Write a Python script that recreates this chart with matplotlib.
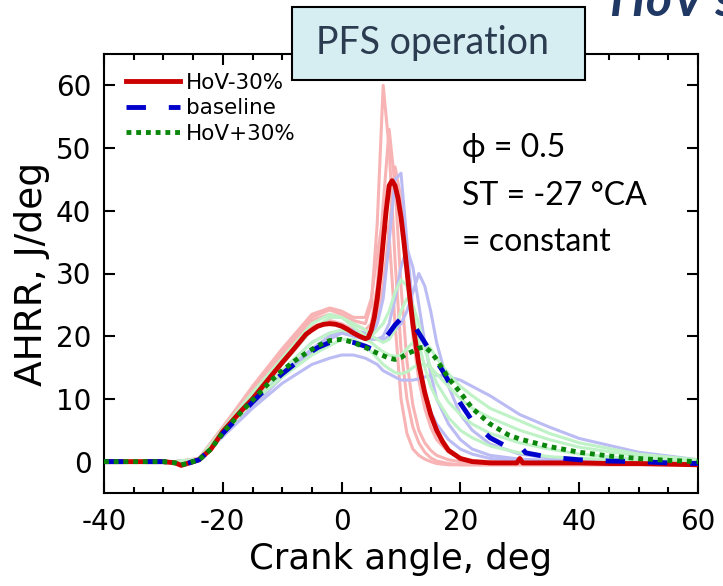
"""Heat-release-rate traces for the HoV sweep under PFS operation."""

import matplotlib

matplotlib.use("Agg")
import matplotlib.pyplot as plt
from matplotlib.patches import Rectangle
from matplotlib.ticker import MultipleLocator

# mean curves
red_angle = [-40, -30, -28, -27, -26, -24, -22, -20, -17, -15, -12, -10, -8, -6, -5, -4, -3, -2, -1, 0,
             1, 2, 3, 4, 4.5, 5, 5.5, 6, 6.5, 7, 7.5, 8, 8.5, 9, 9.5, 10, 10.5, 11, 11.5, 12,
             13, 14, 15, 16, 17, 18, 20, 22, 25, 29.5, 30, 30.5, 35, 40, 45, 50, 55, 60]
red_ahrr = [0, 0, -0.2, -0.6, -0.3, 0.3, 2, 4.8, 8, 10, 13.5, 15.8, 18, 20.3, 21, 21.6, 21.9, 22, 21.9, 21.6,
            21.1, 20.5, 20, 19.6, 19.8, 21, 23, 26, 30, 35, 40, 44, 44.8, 44, 42, 39, 35, 30.5, 26, 22,
            15.5, 11, 7.5, 5, 3.2, 1.8, 0.5, 0, -0.2, -0.2, 0.5, -0.2, -0.2, -0.2, -0.3, -0.3, -0.4, -0.5]

blue_angle = [-40, -30, -28, -27, -26, -24, -22, -20, -17, -15, -12, -10, -8, -6, -4, -2, 0, 2, 4, 5,
              6, 7, 8, 9, 10, 10.5, 11, 12, 13, 14, 15, 16, 17, 18, 19, 20, 22, 25, 28, 30,
              30.5, 31, 35, 40, 45, 50, 55, 60]
blue_ahrr = [0, 0, -0.2, -0.5, -0.3, 0.3, 2, 4.5, 7.5, 9.5, 12.3, 14, 15.5, 17, 18.2, 19, 19.3, 19, 18.4, 18,
             18.2, 19.2, 20.5, 21.8, 22.8, 23, 22.8, 22, 20.5, 19, 17.5, 16, 14.5, 12.8, 11, 9.3, 6.5, 3.8, 2.3, 1.6,
             2.0, 1.4, 0.7, 0.3, 0.1, 0, -0.2, -0.3]

green_angle = [-40, -30, -28, -27, -26, -24, -22, -20, -17, -15, -12, -10, -8, -6, -4, -2, 0, 2, 4, 6,
               8, 9, 10, 11, 12, 13, 14, 15, 16, 18, 20, 22, 25, 28, 30, 35, 40, 45, 50, 55, 60]
green_ahrr = [0, 0, -0.2, -0.5, -0.3, 0.3, 2, 4.6, 7.8, 9.8, 12.8, 14.5, 16, 17.3, 18.5, 19.3, 19.5, 19, 18.2, 17.3,
              16.5, 16.3, 16.6, 17.2, 17.6, 18.1, 18.3, 17.5, 16.3, 13.3, 11, 8.5, 6, 4.3, 3.6, 2.4, 1.5, 0.9, 0.5, 0.2, 0]

# individual cycles (faint lines), all on one angle grid
trace_angle = [-40, -28, -24, -20, -15, -10, -5, -2, 0, 2, 4, 5, 6, 7, 8, 9, 10, 11, 12, 13,
               14, 15, 16, 18, 20, 22, 25, 30, 35, 40, 50, 60]
red_traces = [
    [0, 0, 0.5, 5.5, 11.5, 17.5, 23, 24.2, 23.5, 22.5, 22, 25, 38, 60, 50, 32, 18, 10, 5.5, 3,
     1.5, 0.6, 0.1, -0.3, -0.5, -0.5, -0.5, -0.5, -0.5, -0.5, -0.5, -0.5],
    [0, 0, 0.4, 5, 11, 17, 22.5, 23.5, 23, 22, 21, 22, 28, 41, 53, 44, 28, 16, 9, 5,
     3, 1.8, 1, 0.3, 0, -0.2, -0.3, -0.3, -0.3, -0.3, -0.4, -0.5],
    [0, 0, 0.3, 4.6, 10.5, 16, 21.5, 22.5, 22, 21, 20, 20.5, 23, 28, 37, 47, 42, 30, 20, 13,
     8.5, 5.5, 3.5, 1.5, 0.6, 0.2, 0, -0.2, -0.2, -0.3, -0.3, -0.4],
    [0, 0, 0.5, 5.5, 12, 18, 23.5, 24.5, 24, 23, 23, 26, 33, 39, 36, 22, 10, 4.5, 2, 1,
     0.4, 0, -0.3, -0.5, -0.5, -0.5, -0.5, -0.5, -0.5, -0.5, -0.5, -0.5],
]
blue_traces = [
    [0, 0, 0.3, 4.5, 9.5, 14.5, 19, 20.5, 20.5, 20, 19.5, 20, 22, 26, 35, 45, 46, 35, 24, 16,
     11, 8, 6, 3.5, 2, 1.2, 0.5, 0.2, 0, 0, -0.2, -0.3],
    [0, 0, 0.3, 4.3, 9, 14, 18, 20, 21, 21, 20, 19.5, 19.5, 20, 22, 26, 31, 34, 31, 25,
     19, 14, 10, 6, 3.5, 2, 1, 0.4, 0.2, 0, -0.2, -0.3],
    [0, 0, 0.3, 4.2, 8.8, 13.5, 17.5, 19.5, 20.5, 21, 20.5, 20, 19.5, 19.5, 20, 21, 22, 24, 27, 30,
     28, 24, 19, 12, 7.5, 5, 2.8, 1.2, 0.6, 0.3, 0, -0.2],
    [0, 0, 0.3, 4, 8.5, 12.5, 15.5, 16.5, 17, 17, 16.5, 16, 15.5, 14.5, 14, 13.5, 13, 13, 13, 13.2,
     13.5, 13.7, 13.8, 13.5, 13, 12, 10.5, 7.5, 5.5, 3.7, 1.5, 0.3],
]
green_traces = [
    [0, 0, 0.4, 5, 10.5, 15.5, 21, 23, 23, 22, 21, 20, 19.5, 19, 19.5, 21, 24, 26, 25, 22,
     18, 15, 12.5, 9.5, 7.5, 6, 4.5, 3, 2, 1.2, 0.4, 0],
    [0, 0, 0.3, 4.6, 9.8, 14.5, 19, 20.5, 21, 20.5, 19.5, 19, 18.2, 17.5, 17, 16.8, 17, 18, 19, 19.5,
     19, 18, 16.5, 14, 12, 10.5, 8.5, 6.5, 4.5, 3, 1.2, 0.3],
    [0, 0, 0.3, 4.4, 9.5, 13.5, 17, 18.5, 19.5, 19.5, 18.5, 17.5, 16.5, 15.5, 14.8, 14.2, 14, 14.3, 15, 15.5,
     15.5, 15, 14, 12, 10, 8.5, 7, 5, 3.5, 2.3, 0.9, 0.2],
    [0, 0, 0.4, 5.2, 11, 16.5, 22, 23.5, 23, 21.5, 20, 20, 21, 22, 24, 27, 29, 28, 24, 19,
     15, 12, 10, 7, 5, 3.8, 2.5, 1.4, 0.8, 0.5, 0.2, 0],
]

labels = ["HoV-30%", "baseline", "HoV+30%"]
notes = ["\u03d5 = 0.5", "ST = -27 \u00b0CA", "= constant"]

plt.rcParams["font.family"] = "DejaVu Sans"
TEXT_FONT = ["Lato", "DejaVu Sans"]

fig = plt.figure(figsize=(7.23, 5.86), dpi=100)
ax = fig.add_axes([104 / 723, 93 / 586, 594 / 723, 439 / 586])

for trace in red_traces:
    ax.plot(trace_angle, trace, color="#f8b4b4", lw=2.2, zorder=1)
for trace in blue_traces:
    ax.plot(trace_angle, trace, color="#bcbcf4", lw=2.2, zorder=1)
for trace in green_traces:
    ax.plot(trace_angle, trace, color="#bff2c6", lw=2.2, zorder=1)

ax.plot(red_angle, red_ahrr, color="#cc0000", lw=3.5, label=labels[0], zorder=3)
ax.plot(blue_angle, blue_ahrr, color="#0000cc", lw=3.5, ls=(0, (4, 4.7)), label=labels[1], zorder=4)
ax.plot(green_angle, green_ahrr, color="#0a860a", lw=3.5, ls=(0, (1, 1)), label=labels[2], zorder=5)

ax.set_xlim(-40, 60)
ax.set_ylim(-5, 65)
ax.xaxis.set_major_locator(MultipleLocator(20))
ax.xaxis.set_minor_locator(MultipleLocator(5))
ax.yaxis.set_major_locator(MultipleLocator(10))
ax.tick_params(which="both", direction="in", top=True, right=True, width=1.5)
ax.tick_params(which="major", length=8, labelsize=20)
ax.tick_params(which="minor", length=4)
ax.tick_params(axis="x", pad=11)
ax.tick_params(axis="y", pad=9)
ax.set_xticks([-40, -20, 0, 20, 40, 60], ["-40", "-20", "0", "20", "40", "60"])
ax.set_yticks([0, 10, 20, 30, 40, 50, 60], ["0", "10", "20", "30", "40", "50", "60"])
for spine in ax.spines.values():
    spine.set_linewidth(1.5)

ax.set_xlabel("Crank angle, deg", fontsize=25.5, labelpad=4)
ax.set_ylabel("AHRR, J/deg", fontsize=27, labelpad=4)

ax.legend(loc="upper left", bbox_to_anchor=(0.037, 0.957), frameon=False, fontsize=15.5,
          handlelength=2.5, handletextpad=0.3, labelspacing=0.25, borderpad=0, borderaxespad=0)

for note, y in zip(notes, [48.6, 41.0, 33.6]):
    ax.text(20.3, y, note, fontsize=23, family=TEXT_FONT, va="baseline", zorder=6)

fig.patches.append(Rectangle((292 / 723, 1 - 80 / 586), 293 / 723, 73 / 586, transform=fig.transFigure,
                             facecolor="#d6eef2", edgecolor="black", lw=1.5, zorder=10))
fig.text(432 / 723, 1 - 43 / 586, "PFS operation", fontsize=27, family=TEXT_FONT, color="#2b3b50",
         ha="center", va="center", zorder=11)
fig.text(610 / 723, 1 - 16 / 586, "HoV sweep", fontsize=36, family=TEXT_FONT, weight="bold",
         style="italic", color="#1f3864", va="baseline")

fig.savefig("out.png", dpi=100)
